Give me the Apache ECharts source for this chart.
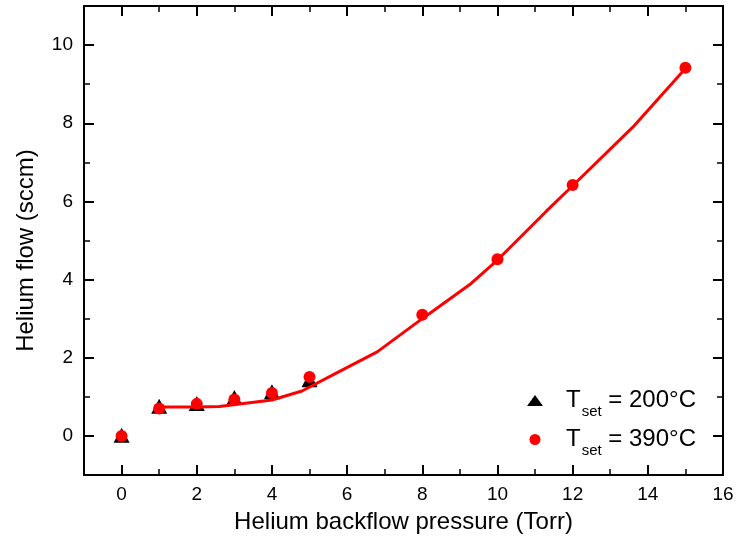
<!DOCTYPE html>
<html>
<head>
<meta charset="utf-8">
<script src="https://cdn.jsdelivr.net/npm/echarts@6/dist/echarts.min.js"></script>
<style>html,body{margin:0;padding:0;background:#fff}#c{width:739px;height:551px}</style>
</head>
<body>
<div id="c"></div>
<script>
var xMajorTicks = [0, 2, 4, 6, 8, 10, 12, 14, 16];
var xMinorTicks = [1, 3, 5, 7, 9, 11, 13, 15];
var yMajorTicks = [0, 2, 4, 6, 8, 10];
var yMinorTicks = [1, 3, 5, 7, 9];

var pressure200 = [0, 1, 2, 3, 4, 5];
var flow200 = [0.02, 0.76, 0.83, 0.98, 1.13, 1.44];

var pressure390 = [0, 1, 2, 3, 4, 5, 8, 10, 12, 15];
var flow390 = [0.0, 0.70, 0.82, 0.93, 1.10, 1.51, 3.1, 4.52, 6.42, 9.42];

var fitPressure = [1, 2, 2.6, 4, 4.8, 5.8, 6.8, 8, 9.3, 10, 11.3, 12, 13.6, 15];
var fitFlow = [0.74, 0.74, 0.75, 0.92, 1.15, 1.65, 2.15, 3.0, 3.9, 4.5, 5.75, 6.4, 7.9, 9.4];

var seriesNames = ['T200', 'T390'];
var legendLabels = {
  T200: '{a|T}{s|set}{b| = 200°C}',
  T390: '{a|T}{s|set}{b| = 390°C}'
};

function pairs(xs, ys) { return xs.map(function (x, i) { return [x, ys[i]]; }); }

var FONT = '"Liberation Sans", Arial, Helvetica, sans-serif';
var chart = echarts.init(document.getElementById('c'), null, { renderer: 'canvas' });

function xAxisDef(pos, ticks, len, major, width) {
  var labels = major && pos === 'bottom';
  return {
    type: 'value', position: pos, min: -1, max: 16,
    axisLine: { show: major, onZero: false, lineStyle: { color: '#000', width: 2 } },
    splitLine: { show: false },
    axisTick: { show: true, inside: true, length: len, customValues: ticks, lineStyle: { color: '#000', width: width } },
    axisLabel: labels ? { show: true, customValues: xMajorTicks, color: '#000', fontSize: 19, fontFamily: FONT, margin: 10 } : { show: false },
    name: labels ? 'Helium backflow pressure (Torr)' : '',
    nameLocation: 'middle', nameGap: 35,
    nameTextStyle: { color: '#000', fontSize: 24, fontFamily: FONT }
  };
}
function yAxisDef(pos, ticks, len, major, width) {
  var labels = major && pos === 'left';
  return {
    type: 'value', position: pos, min: -1, max: 11,
    axisLine: { show: major, onZero: false, lineStyle: { color: '#000', width: 2 } },
    splitLine: { show: false },
    axisTick: { show: true, inside: true, length: len, customValues: ticks, lineStyle: { color: '#000', width: width } },
    axisLabel: labels ? { show: true, customValues: yMajorTicks, color: '#000', fontSize: 19, fontFamily: FONT, margin: 11 } : { show: false },
    name: labels ? 'Helium flow (sccm)' : '',
    nameLocation: 'middle', nameGap: 46,
    nameTextStyle: { color: '#000', fontSize: 24, fontFamily: FONT, padding: [0, 20, 0, 0] }
  };
}

var option = {
  backgroundColor: '#fff',
  animation: false,
  grid: { left: 84, right: 16, top: 6, bottom: 76, show: false },
  xAxis: [
    xAxisDef('bottom', xMajorTicks, 10, true, 2),
    xAxisDef('bottom', xMinorTicks, 6, false, 1.5),
    xAxisDef('top', xMajorTicks, 10, true, 2),
    xAxisDef('top', xMinorTicks, 6, false, 1.5)
  ],
  yAxis: [
    yAxisDef('left', yMajorTicks, 10, true, 2),
    yAxisDef('left', yMinorTicks, 6, false, 1.5),
    yAxisDef('right', yMajorTicks, 10, true, 2),
    yAxisDef('right', yMinorTicks, 6, false, 1.5)
  ],
  legend: {
    orient: 'vertical', left: 522, top: 377, itemWidth: 16, itemHeight: 11, itemGap: 2,
    selectedMode: false,
    data: [
      { name: 'T200', icon: 'path://M0,11L8,0L16,11Z', itemStyle: { color: '#000', opacity: 1 } },
      { name: 'T390', icon: 'circle', itemStyle: { color: '#ff0000', opacity: 1 } }
    ],
    formatter: function (n) { return legendLabels[n]; },
    textStyle: {
      color: '#000', fontFamily: FONT,
      rich: {
        a: { fontSize: 24, lineHeight: 24, padding: [0, 0, 0, 18], verticalAlign: 'middle', fontFamily: FONT, color: '#000' },
        s: { fontSize: 15, lineHeight: 2, padding: [22, 0, 0, 1], verticalAlign: 'middle', fontFamily: FONT, color: '#000' },
        b: { fontSize: 24, lineHeight: 24, verticalAlign: 'middle', fontFamily: FONT, color: '#000' }
      }
    }
  },
  series: [
    {
      name: seriesNames[0], type: 'scatter', xAxisIndex: 0, yAxisIndex: 0,
      symbol: 'path://M0,15L8,0L16,15Z', symbolSize: [16, 15], symbolKeepAspect: false,
      itemStyle: { color: '#000', opacity: 1 },
      data: pairs(pressure200, flow200), z: 2
    },
    {
      name: 'fit', type: 'line', xAxisIndex: 0, yAxisIndex: 0,
      showSymbol: false, symbol: 'none', smooth: false,
      lineStyle: { color: '#ff0000', width: 3 },
      data: pairs(fitPressure, fitFlow), z: 3
    },
    {
      name: seriesNames[1], type: 'scatter', xAxisIndex: 0, yAxisIndex: 0,
      symbol: 'circle', symbolSize: 12,
      itemStyle: { color: '#ff0000', opacity: 1 },
      data: pairs(pressure390, flow390), z: 4
    }
  ]
};
chart.setOption(option);
</script>
</body>
</html>
